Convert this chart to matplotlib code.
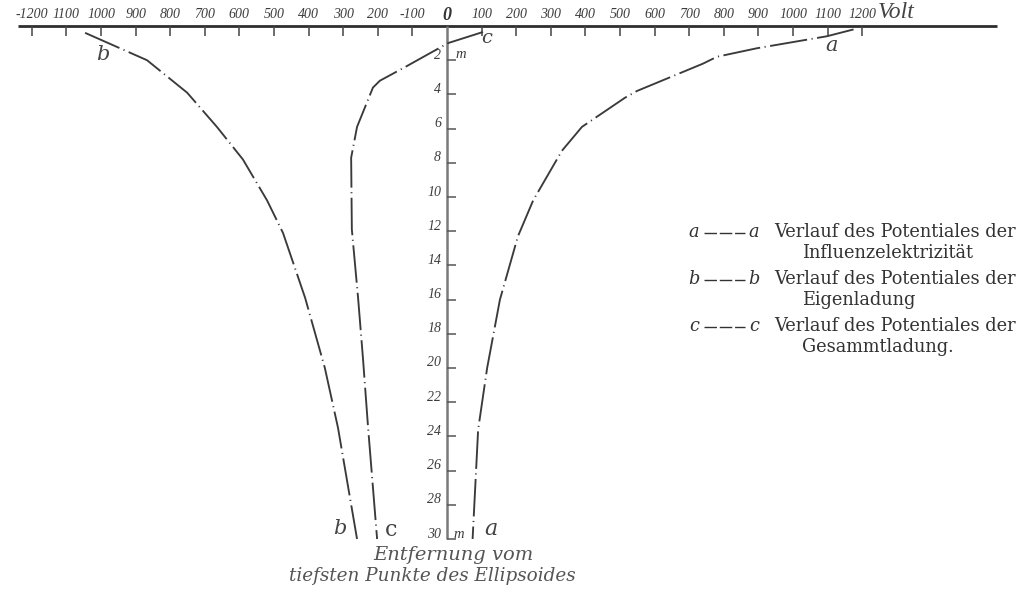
import matplotlib
matplotlib.use("Agg")
import matplotlib.pyplot as plt

# ---- data ----
depth_a = [0.2, 0.6, 1.3, 1.8, 2.2, 3.8, 4.2, 5.9, 7.3, 10.2, 12.3, 16.0, 20.0, 23.6, 30.0]
volt_a = [1175, 1098, 896, 780, 740, 549, 514, 390, 332, 249, 205, 153, 116, 90, 74]

depth_b = [0.4, 2.0, 3.9, 5.9, 7.8, 10.2, 12.1, 15.9, 20.0, 23.5, 30.0]
volt_b = [-1046, -867, -751, -665, -590, -520, -474, -410, -353, -315, -260]

depth_c = [0.35, 1.0, 2.4, 3.2, 3.6, 5.9, 7.7, 11.9, 15.9, 19.4, 23.5, 30.0]
volt_c = [104, 3, -121, -194, -214, -260, -277, -275, -257, -243, -228, -202]

x_tick_values = [-1200, -1100, -1000, -900, -800, -700, -600, -500, -400, -300, -200, -100,
                 100, 200, 300, 400, 500, 600, 700, 800, 900, 1000, 1100, 1200]
x_tick_labels = ["-1200", "1100", "1000", "900", "800", "700", "600", "500", "400", "300",
                 "200", "-100", "100", "200", "300", "400", "500", "600", "700", "800",
                 "900", "1000", "1100", "1200"]
y_tick_values = [2, 4, 6, 8, 10, 12, 14, 16, 18, 20, 22, 24, 26, 28, 30]
y_tick_labels = ["2", "4", "6", "8", "10", "12", "14", "16", "18", "20", "22", "24", "26", "28", "30"]

legend_keys = ["a", "b", "c"]
legend_first = ["Verlauf des Potentiales der"] * 3
legend_second = ["Influenzelektrizität", "Eigenladung", "Gesammtladung."]

# ---- layout ----
W, H = 1020, 592
PXV = 0.346   # pixels per volt
PXM = 17.1    # pixels per metre
X0, Y0 = 447, 26

fig = plt.figure(figsize=(W / 100, H / 100), dpi=100)
fig.patch.set_facecolor("white")
ax = fig.add_axes([0, 0, 1, 1])
ax.set_xlim(-X0 / PXV, (W - X0) / PXV)
ax.set_ylim((H - Y0) / PXM, -Y0 / PXM)
ax.axis("off")

ink = "#2e2e2e"
grey = "#7a7a7a"
tickfont = dict(family="Liberation Serif", style="italic", color="#3c3c3c")

# x axis line and ticks
ax.hlines(0, -1240, 1590, color=ink, lw=2.0)
ax.vlines(x_tick_values, 0, 10 / PXM, color="#444444", lw=1.1)
for v, lab in zip(x_tick_values, x_tick_labels):
    ax.text(v, -11 / PXM, lab, ha="center", va="center", fontsize=10, **tickfont)
ax.text(0, -11 / PXM, "0", ha="center", va="center", fontsize=13,
        family="Liberation Serif", style="italic", weight="bold", color="#333333")
ax.text(1245, -13 / PXM, "Volt", ha="left", va="center", fontsize=17,
        family="Liberation Serif", style="italic", color="#444444")

# y axis line and ticks
ax.vlines(0, 0, 30, color=grey, lw=1.8)
ax.hlines(y_tick_values, 0, 9 / PXV, color="#555555", lw=1.1)
for v, lab in zip(y_tick_values, y_tick_labels):
    ax.text(-6 / PXV, v - 5 / PXM, lab, ha="right", va="center", fontsize=10, **tickfont)
ax.text(8 / PXV, 2 - 6 / PXM, "m", ha="left", va="center", fontsize=10.5, **tickfont)
ax.text(6 / PXV, 30 - 4 / PXM, "m", ha="left", va="center", fontsize=10.5, **tickfont)

# curves
dash = (0, (20, 2.4, 0.6, 2.4))
for vv, dd in [(volt_a, depth_a), (volt_b, depth_b), (volt_c, depth_c)]:
    ax.plot(vv, dd, color="#3a3a3a", lw=1.35, linestyle=dash, solid_capstyle="butt",
            dash_capstyle="butt")

# curve letters
lf = dict(family="DejaVu Serif", style="italic", color="#444444")
ax.text(volt_a[0] - 22 / PXV, depth_a[0] + 16 / PXM, "a", fontsize=15, ha="center", va="center", **lf)
ax.text(volt_b[0] + 18 / PXV, depth_b[0] + 22 / PXM, "b", fontsize=15, ha="center", va="center", **lf)
ax.text(volt_c[0] + 4 / PXV, depth_c[0] + 6 / PXM, "c", fontsize=14, ha="center", va="center", **lf)
ax.text(volt_a[-1] + 18 / PXV, depth_a[-1] - 10 / PXM, "a", fontsize=16, ha="center", va="center", **lf)
ax.text(volt_b[-1] - 17 / PXV, depth_b[-1] - 10 / PXM, "b", fontsize=15, ha="center", va="center", **lf)
ax.text(volt_c[-1] + 14 / PXV, depth_c[-1] - 9 / PXM, "c", fontsize=16, ha="center", va="center",
        family="DejaVu Serif", color="#444444")

# caption under the y axis
cap = dict(family="DejaVu Serif", style="italic", color="#555555", ha="center", va="center")
fig.text(453 / W, 1 - 555 / H, "Entfernung vom", fontsize=14, **cap)
fig.text(432 / W, 1 - 576 / H, "tiefsten Punkte des Ellipsoides", fontsize=13.2, **cap)

# legend block
txt = dict(family="DejaVu Serif", color="#333333", fontsize=12.8, va="center")
row_y = [232, 279, 326]
for i, k in enumerate(legend_keys):
    y = row_y[i]
    fig.text(694 / W, 1 - y / H, k, ha="center", style="italic", **txt)
    fig.add_artist(plt.Line2D([704 / W, 745 / W], [1 - (y + 1) / H] * 2, color="#333333",
                              lw=1.0, linestyle=(0, (9, 2))))
    fig.text(754 / W, 1 - y / H, k, ha="center", style="italic", **txt)
    fig.text(1016 / W, 1 - y / H, legend_first[i], ha="right", **txt)
    fig.text(802 / W, 1 - (y + 21) / H, legend_second[i], ha="left", **txt)

fig.savefig("out.png", dpi=100, facecolor="white")
